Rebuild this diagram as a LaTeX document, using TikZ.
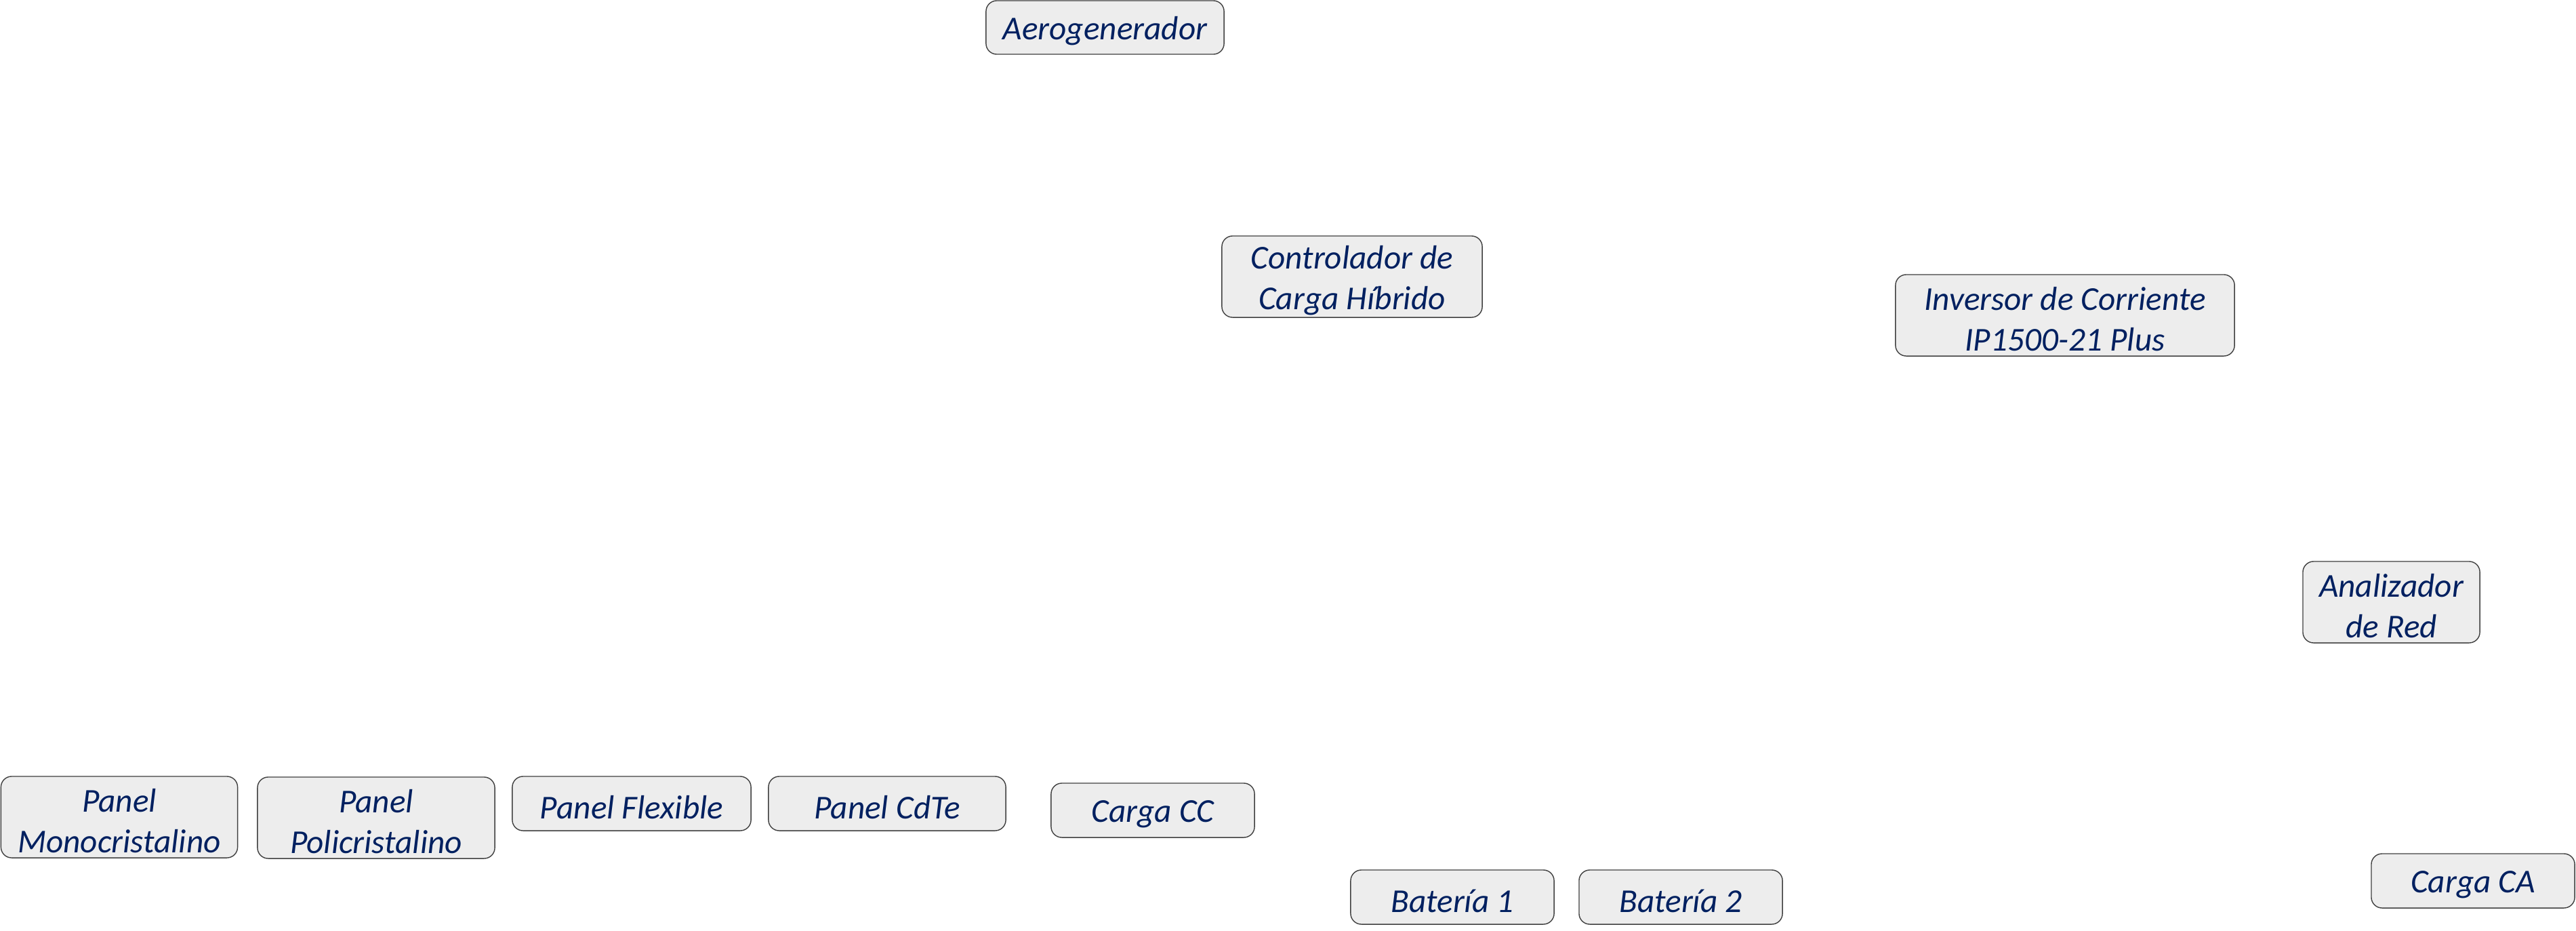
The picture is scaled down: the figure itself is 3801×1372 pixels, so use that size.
\documentclass[tikz,border=0pt]{standalone}
\usepackage{fontspec}
\setmainfont{Carlito}
\definecolor{txtblue}{HTML}{002060}
\definecolor{boxfill}{HTML}{EDEDED}
\definecolor{boxline}{HTML}{404040}
\begin{document}
\begin{tikzpicture}[x=0.01cm,y=-0.01cm,
  box/.style={draw=boxline, line width=0.4pt, fill=boxfill, rounded corners=4.5pt, inner sep=0pt},
  txt/.style={inner sep=0pt, align=center, text=txtblue,
    font=\fontsize{14pt}{17pt}\selectfont\itshape}]
\useasboundingbox (0,0) rectangle (3801,1372);
\node[box, minimum width=3.51cm, minimum height=0.79cm] (aero) at (1630.5,40.5) {};
\node[box, minimum width=3.84cm, minimum height=1.20cm] (ctrl) at (1995,408) {};
\node[box, minimum width=5.00cm, minimum height=1.20cm] (inv) at (3047,465) {};
\node[box, minimum width=2.61cm, minimum height=1.20cm] (anal) at (3528.5,888) {};
\node[box, minimum width=3.49cm, minimum height=1.20cm] (mono) at (176,1205) {};
\node[box, minimum width=3.50cm, minimum height=1.20cm] (poli) at (555,1206) {};
\node[box, minimum width=3.52cm, minimum height=0.80cm] (flex) at (932,1185) {};
\node[box, minimum width=3.50cm, minimum height=0.80cm] (cdte) at (1309,1185) {};
\node[box, minimum width=3.00cm, minimum height=0.80cm] (cc) at (1701,1195) {};
\node[box, minimum width=3.00cm, minimum height=0.80cm] (bat1) at (2143,1323) {};
\node[box, minimum width=3.00cm, minimum height=0.80cm] (bat2) at (2480,1323) {};
\node[box, minimum width=3.00cm, minimum height=0.80cm] (ca) at (3649,1299) {};
\node[txt] (aeroT) at ([yshift=-0.055cm]aero.center) {Aerogenerador};
\node[txt] (ctrlT) at ([yshift=-0.055cm]ctrl.center) {Controlador de\\Carga Híbrido};
\node[txt] (invT) at ([yshift=-0.055cm]inv.center) {Inversor de Corriente\\IP1500-21 Plus};
\node[txt] (analT) at ([yshift=-0.055cm]anal.center) {Analizador\\de Red};
\node[txt] (monoT) at ([yshift=-0.055cm]mono.center) {Panel\\Monocristalino};
\node[txt] (poliT) at ([yshift=-0.055cm]poli.center) {Panel\\Policristalino};
\node[txt] (flexT) at ([yshift=-0.055cm]flex.center) {Panel Flexible};
\node[txt] (cdteT) at ([yshift=-0.055cm]cdte.center) {Panel CdTe};
\node[txt] (ccT) at ([yshift=-0.055cm]cc.center) {Carga CC};
\node[txt] (bat1T) at ([yshift=-0.055cm]bat1.center) {Batería 1};
\node[txt] (bat2T) at ([yshift=-0.055cm]bat2.center) {Batería 2};
\node[txt] (caT) at ([yshift=-0.055cm]ca.center) {Carga CA};
\end{tikzpicture}
\end{document}
